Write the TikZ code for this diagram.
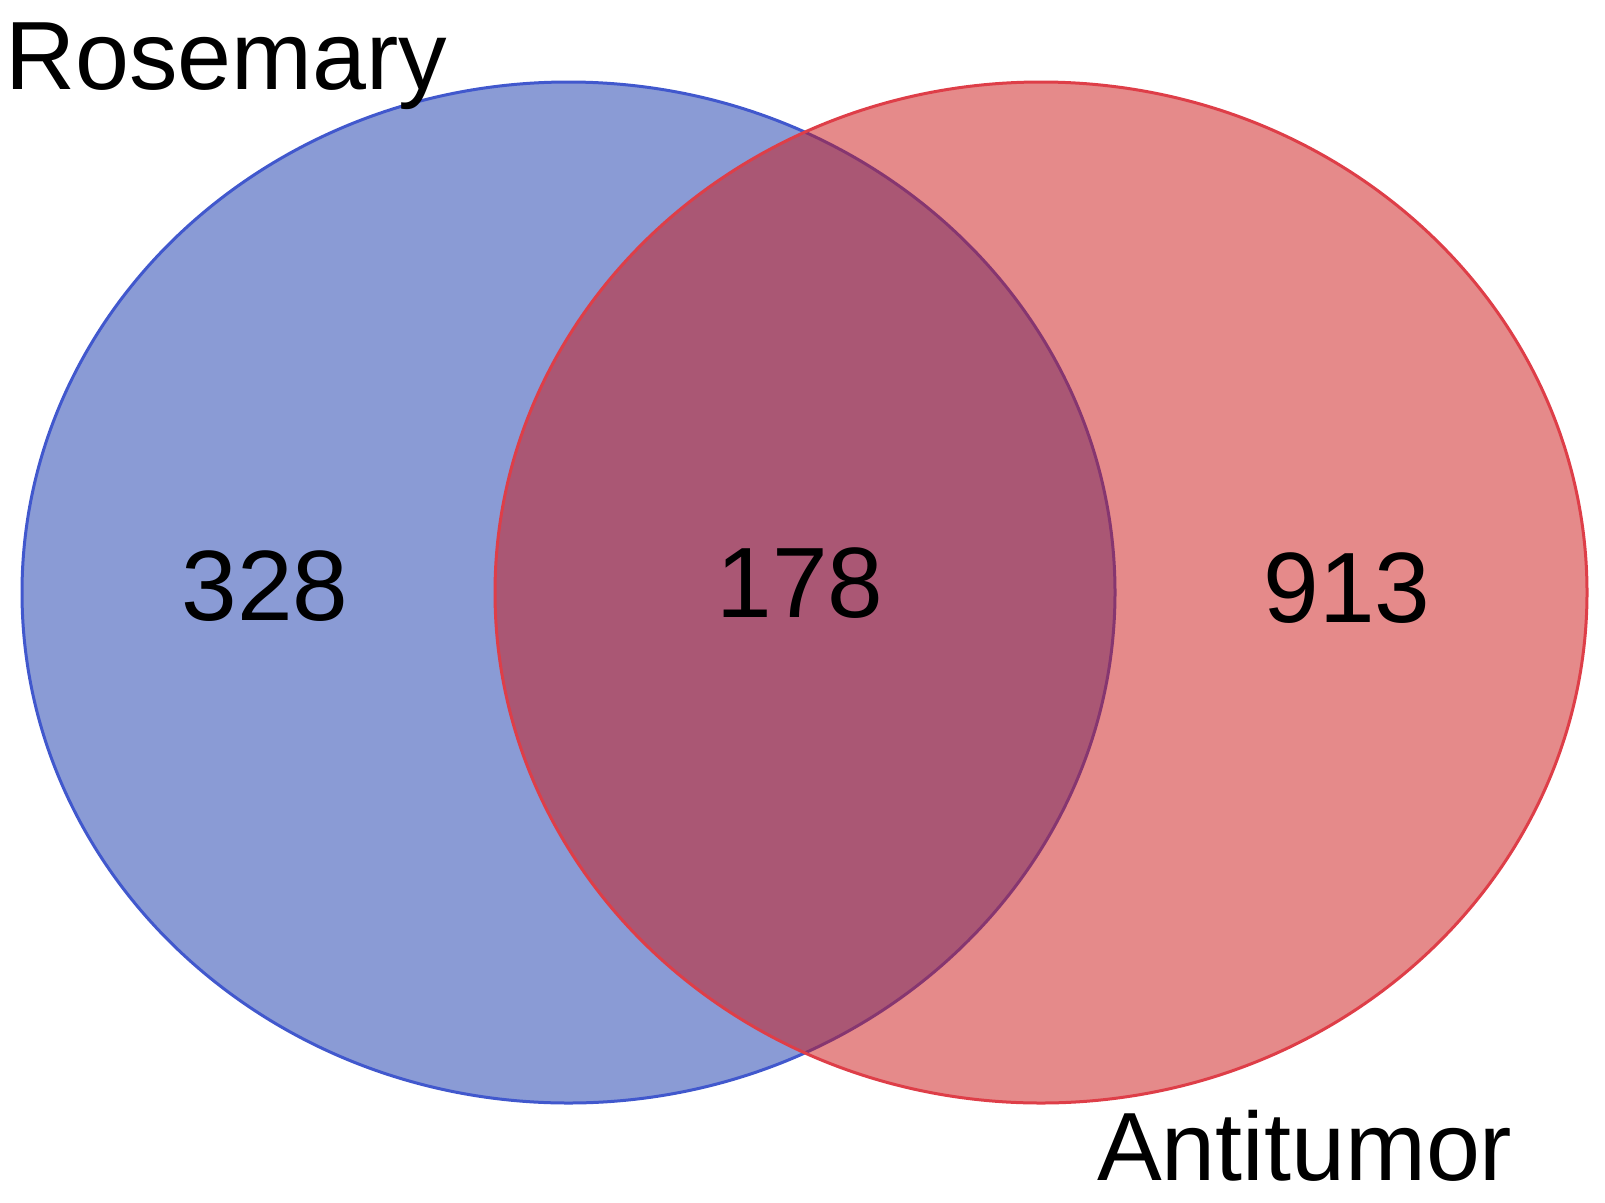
\documentclass[tikz,border=0pt]{standalone}
\usepackage{fontspec}
\setmainfont{Liberation Sans}
\definecolor{roseblue}{RGB}{21,55,171}
\definecolor{roseline}{RGB}{65,88,205}
\definecolor{tumred}{RGB}{203,21,21}
\definecolor{tumline}{RGB}{222,62,72}
\begin{document}
\begin{tikzpicture}[x=1pt,y=-1pt,
    setlabel/.style={inner sep=0pt,font=\fontsize{97}{116}\selectfont},
    count/.style={inner sep=0pt,anchor=base,font=\fontsize{100}{120}\selectfont}]
        \useasboundingbox (0,0) rectangle (1605,1202);
        % the two sets
        \draw[roseline,line width=3pt,fill=roseblue,fill opacity=.5] (568.5,592.5) ellipse [x radius=546.5,y radius=510.5];
        \draw[tumline,line width=3pt,fill=tumred,fill opacity=.5] (1041,592.5) ellipse [x radius=546,y radius=510.5];
        \node[setlabel,anchor=base west] (rosemary) at (5,89) {Rosemary};
        \node[setlabel,anchor=base west] (antitumor) at (1097,1180) {Antitumor};
        \node[count] (onlyrose) at (265,620) {328};
        \node[count] (both) at (800,617) {178};
        \node[count] (onlytum) at (1347,622) {913};

      \end{tikzpicture}
\end{document}
